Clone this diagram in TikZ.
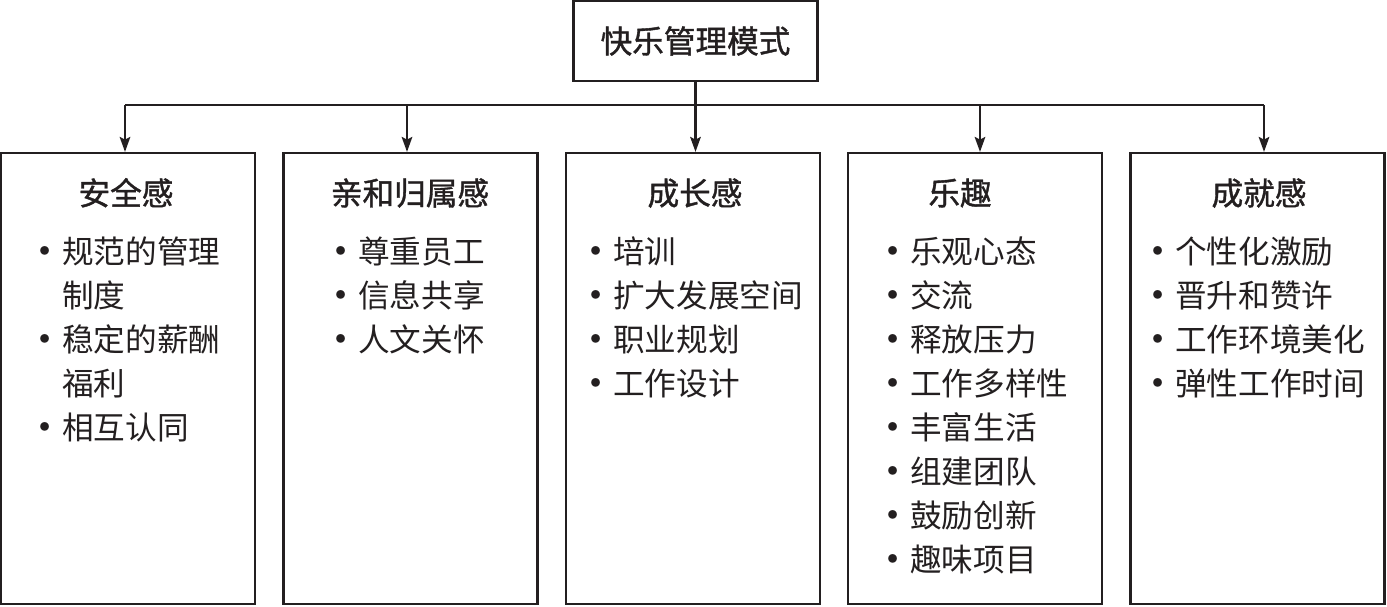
\documentclass[tikz,border=0pt]{standalone}
\usepackage{fontspec}
\setmainfont{Noto Sans CJK SC}
\newfontfamily\ttlfont{Noto Sans CJK SC}[FakeBold=1.2]
\usetikzlibrary{arrows.meta, positioning, calc}
\definecolor{ink}{HTML}{231F20}

\newcommand{\bul}{\llap{\makebox[0.68cm][c]{\raisebox{-2pt}{\scalebox{1.3}{•}}}}}

\begin{document}
\begin{tikzpicture}[
    x=0.02cm, y=-0.02cm,
    every node/.style={font=\fontsize{18pt}{25pt}\selectfont, text=ink},
    root/.style={rectangle, draw=ink, line width=1.3pt, minimum width=4.88cm,
                 minimum height=1.6cm},
    cat/.style={rectangle, draw=ink, line width=1.3pt, minimum width=5.08cm,
                minimum height=9.02cm},
    ttl/.style={anchor=base, font=\fontsize{18pt}{25pt}\ttlfont},
    itm/.style={anchor=base west, inner sep=0pt},
    ln/.style={draw=ink, line width=1.3pt},
    arr/.style={-{Stealth[length=8.5pt, width=6pt, inset=1.5pt]}, line width=1.3pt, draw=ink},
]
\useasboundingbox (0,0) rectangle (1387,606);

% ================================================================ top
\node[root, font=\fontsize{18pt}{25pt}\ttlfont] (top) at (695.5, 41) {快乐管理模式};

\coordinate (a1) at (125, 105);
\coordinate (a2) at (407, 105);
\coordinate (a3) at (695.5, 105);
\coordinate (a4) at (980, 105);
\coordinate (a5) at (1264, 105);
\draw[ln] (top.south) -- (a3);
\draw[ln] (a1) -- (a5);

% ================================================================ boxes
\node[cat] (c1) at (128, 378.5) {};
\node[cat] (c2) at (410.5, 378.5) {};
\node[cat] (c3) at (693, 378.5) {};
\node[cat] (c4) at (975, 378.5) {};
\node[cat] (c5) at (1257.5, 378.5) {};

\foreach \k in {1,...,5}{
    \draw[arr] (a\k) -- (a\k |- c\k.north);
}

\node[ttl] (t1) at (126, 205) {安全感};
\node[ttl] (t2) at (410, 205) {亲和归属感};
\node[ttl] (t3) at (695, 205) {成长感};
\node[ttl] (t4) at (960, 205) {乐趣};
\node[ttl] (t5) at (1259, 205) {成就感};

\foreach \k/\v in {0/{\bul 规范的管理}, 1/{制度}, 2/{\bul 稳定的薪酬}, 3/{福利},
                   4/{\bul 相互认同}}{
    \node[itm] (i1\k) at (62, {263 + \k*44}) {\v};
}
\foreach \k/\v in {0/{尊重员工}, 1/{信息共享}, 2/{人文关怀}}{
    \node[itm] (i2\k) at (358, {263 + \k*44}) {\bul \v};
}
\foreach \k/\v in {0/{培训}, 1/{扩大发展空间}, 2/{职业规划}, 3/{工作设计}}{
    \node[itm] (i3\k) at (613, {263 + \k*44}) {\bul \v};
}
\foreach \k/\v in {0/{乐观心态}, 1/{交流}, 2/{释放压力}, 3/{工作多样性},
                   4/{丰富生活}, 5/{组建团队}, 6/{鼓励创新}, 7/{趣味项目}}{
    \node[itm] (i4\k) at (910, {263 + \k*44}) {\bul \v};
}
\foreach \k/\v in {0/{个性化激励}, 1/{晋升和赞许}, 2/{工作环境美化}, 3/{弹性工作时间}}{
    \node[itm] (i5\k) at (1175, {263 + \k*44}) {\bul \v};
}

\end{tikzpicture}
\end{document}
